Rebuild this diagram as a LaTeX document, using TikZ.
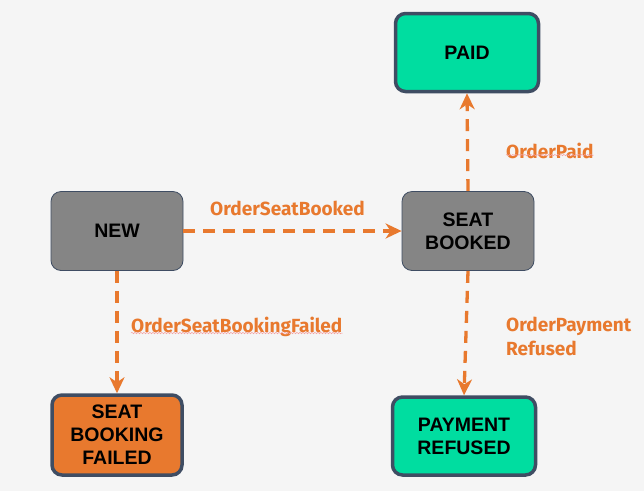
\documentclass[tikz,border=0pt]{standalone}
\usepackage{fontspec}
\setmainfont{Liberation Sans}
\newfontfamily\labfont{Fira Sans}
\usetikzlibrary{arrows.meta,decorations.pathmorphing}
\definecolor{bg}{HTML}{F5F5F5}
\definecolor{grayfill}{HTML}{858585}
\definecolor{greenfill}{HTML}{00DDA0}
\definecolor{orangefill}{HTML}{E8792E}
\definecolor{edge}{HTML}{3F4D63}
\definecolor{arr}{HTML}{E8792E}
\definecolor{squig}{HTML}{F4A0A0}
\begin{document}
\begin{tikzpicture}[x=1pt,y=-1pt,
  state/.style={rounded corners=10pt, align=center, inner sep=0pt,
    font=\fontsize{19.5}{23}\selectfont\bfseries},
  inter/.style={state, fill=grayfill, draw=edge, line width=0.8pt,
    minimum width=132pt, minimum height=79pt},
  final/.style={state, draw=edge, line width=3.5pt,
    minimum width=143pt, minimum height=78pt},
  trans/.style={draw=arr, line width=3.3pt, dash pattern=on 12pt off 8pt,
    -{Stealth[length=16pt,width=15pt,inset=5pt]}},
  lbl/.style={text=arr, font=\labfont\fontsize{19}{24}\selectfont\bfseries,
    inner sep=0pt, align=left, anchor=west},
  wavy/.style={draw=squig, line width=0.5pt, decorate,
    decoration={snake, amplitude=0.7pt, segment length=3pt}}
]
\fill[bg] (0,0) rectangle (644,491);
\useasboundingbox (0,0) rectangle (644,491);

\node[inter] (new) at (117,231) {NEW};
\node[inter] (sb) at (468,231) {SEAT\\BOOKED};
\node[final, fill=greenfill] (paid) at (467,52.5) {PAID};
\node[final, fill=greenfill] (pr) at (464,436) {PAYMENT\\REFUSED};
\node[final, fill=orangefill, minimum width=130pt, minimum height=80pt] (sbf) at (117,435) {SEAT\\BOOKING\\FAILED};

\draw[trans] (new.east) -- (sb.west);
\draw[trans] (sb.north) -- (paid.south);
\draw[trans] (sb.south) -- (pr.north);
\draw[trans] (new.south) -- (sbf.north);

\node[lbl] (l1) at (210,208) {OrderSeatBooked};
\node[lbl] (l2) at (506,151) {OrderPaid};
\node[lbl] (l3) at (506,336) {OrderPayment\\Refused};
\node[lbl] (l4) at (131,327) {OrderSeatBookingFailed};

\draw[wavy] ([yshift=4pt]l2.south west) -- ([yshift=4pt]l2.south east);
\draw[wavy] ([yshift=4pt]l4.south west) -- ([yshift=4pt]l4.south east);
\end{tikzpicture}
\end{document}
